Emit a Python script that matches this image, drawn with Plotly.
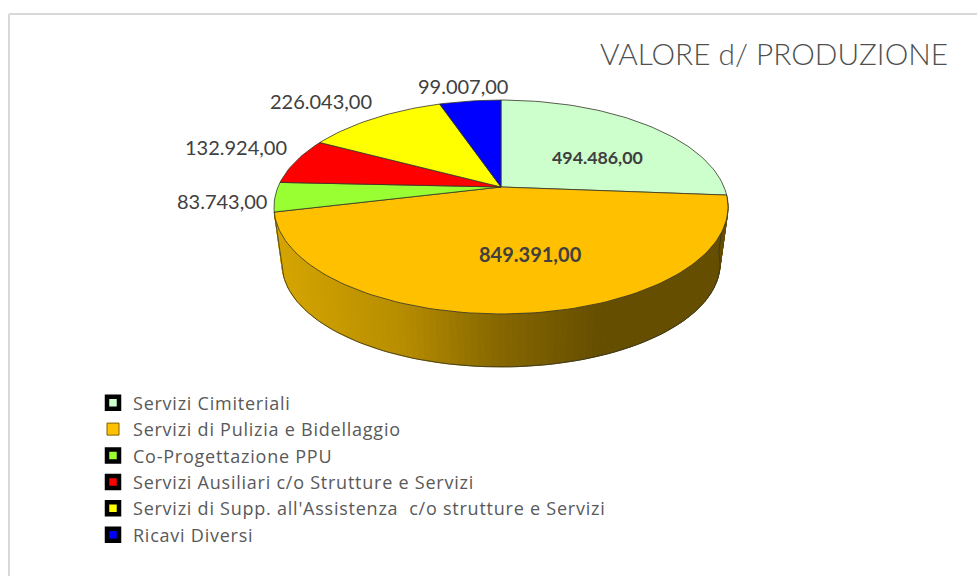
import math
import plotly.graph_objects as go

categories = ["Servizi Cimiteriali", "Servizi di Pulizia e Bidellaggio", "Co-Progettazione PPU",
              "Servizi Ausiliari c/o Strutture e Servizi",
              "Servizi di Supp. all'Assistenza\u00a0\u00a0c/o strutture e Servizi", "Ricavi Diversi"]
values = [494486, 849391, 83743, 132924, 226043, 99007]
colors = ["#CCFFCC", "#FFC000", "#99FF33", "#FF0000", "#FFFF00", "#0000FF"]
legend_borders = ["#000000", "#7F6000", "#000000", "#000000", "#000000", "#000000"]

W, H = 977, 576
CX, CY, KX, KY, P = 501, 187, 223, 103.2, 0.187
DEPTH, SHRINK = 57.4, 0.965
OUTLINE = "#333326"
FONT = "Lato"
TEXT = "#595959"


def fmt(v):
    return f"{v:,.2f}".replace(",", "#").replace(".", ",").replace("#", ".")


def top_point(a):
    u, v = math.sin(a), -math.cos(a)
    d = 1 - P * v
    return CX + KX * u / d, CY + KY * v / d


def bottom_point(a):
    x, y = top_point(a)
    return CX + SHRINK * (x - CX), CY + DEPTH + SHRINK * (y - CY)


def arc(a0, a1, step=math.radians(1.5)):
    n = max(2, int(abs(a1 - a0) / step) + 1)
    return [a0 + (a1 - a0) * i / n for i in range(n + 1)]


def side_color(x):
    stops = [(275, (214, 166, 0)), (400, (184, 142, 0)), (500, (134, 103, 0)), (600, (102, 78, 0)), (730, (102, 78, 0))]
    for (x0, c0), (x1, c1) in zip(stops, stops[1:]):
        if x <= x1:
            t = max(0, (x - x0) / (x1 - x0))
            return "rgb(%d,%d,%d)" % tuple(c0[i] + (c1[i] - c0[i]) * t for i in range(3))
    return "rgb(102,78,0)"


total = sum(values)
bounds = [0.0]
for val in values:
    bounds.append(bounds[-1] + val / total * 2 * math.pi)

fig = go.Figure()

# legend entries
for name, col, edge in zip(categories, colors, legend_borders):
    is_black = edge == "#000000"
    fig.add_trace(go.Scatter(
        x=[None], y=[None], mode="markers", name=name, legendgroup=name,
        marker=dict(symbol="square", size=12, color=col,
                    line=dict(color=edge, width=4.5 if is_black else 1)),
    ))

# side wall of the large slice
a0, a1 = bounds[1], bounds[2]
angles = arc(a0, a1)
for s, e in zip(angles, angles[1:]):
    p = [top_point(s), top_point(e), bottom_point(e), bottom_point(s), top_point(s)]
    c = side_color(sum(q[0] for q in p[:4]) / 4)
    fig.add_trace(go.Scatter(
        x=[q[0] for q in p], y=[q[1] for q in p], mode="lines", fill="toself",
        fillcolor=c, line=dict(color=c, width=1), showlegend=False, hoverinfo="skip",
    ))
low = [bottom_point(a) for a in angles]
edge_line = [top_point(a1)] + low[::-1] + [top_point(a0)]
fig.add_trace(go.Scatter(
    x=[q[0] for q in edge_line], y=[q[1] for q in edge_line], mode="lines",
    line=dict(color=OUTLINE, width=0.8), showlegend=False, hoverinfo="skip",
))

# top faces
for i, col in enumerate(colors):
    rim = [top_point(a) for a in arc(bounds[i], bounds[i + 1])]
    p = [(CX, CY)] + rim + [(CX, CY)]
    fig.add_trace(go.Scatter(
        x=[q[0] for q in p], y=[q[1] for q in p], mode="lines", fill="toself",
        fillcolor=col, line=dict(color=OUTLINE, width=0.8), showlegend=False, hoverinfo="skip",
    ))

# data labels
label_pos = [(597, 157, "center", True, 17.8), (530, 254, "center", True, 20), (268, 201, "right", False, 20),
             (288, 147, "right", False, 20), (373, 101, "right", False, 20), (509, 86, "right", False, 20)]
for val, (x, y, anchor, bold, size) in zip(values, label_pos):
    txt = fmt(val)
    fig.add_annotation(
        x=x, y=y, xref="x", yref="y", text=f"<b>{txt}</b>" if bold else txt, showarrow=False,
        xanchor=anchor, yanchor="middle", xshift=1 if not bold else 0,
        font=dict(family=FONT, size=size, color="#404040"),
    )

fig.update_layout(
    width=W, height=H, margin=dict(l=0, r=0, t=0, b=0),
    paper_bgcolor="white", plot_bgcolor="white",
    title=dict(text="VALORE d/ PRODUZIONE", x=948 / W, y=1 - 55 / H, xanchor="right", yanchor="middle",
               font=dict(family="Lato Light, Lato", size=29.8, color="#505050")),
    xaxis=dict(range=[0, W], visible=False, fixedrange=True),
    yaxis=dict(range=[H, 0], visible=False, fixedrange=True),
    showlegend=True,
    legend=dict(x=93 / W, y=1 - 384.5 / H, xanchor="left", yanchor="top", bgcolor="rgba(0,0,0,0)",
                font=dict(family="Open Sans", size=18, color=TEXT), tracegroupgap=0, traceorder="normal"),
    shapes=[
        dict(type="line", xref="paper", yref="paper", x0=9 / W, x1=1, y0=1 - 14 / H, y1=1 - 14 / H,
             line=dict(color="#D9D9D9", width=2)),
        dict(type="line", xref="paper", yref="paper", x0=9 / W, x1=9 / W, y0=1 - 14 / H, y1=0,
             line=dict(color="#D9D9D9", width=2)),
    ],
)

page_js = (
    "document.body.style.margin='0';document.body.style.overflow='hidden';"
    "var st=document.createElement('style');"
    "st.textContent='.legend text.legendtext{letter-spacing:0.76px}"
    ".legend,.legend .scrollbox{clip-path:none !important}';"
    "document.head.appendChild(st);"
)
fig.write_html("out.html", config={"displayModeBar": False}, post_script=page_js)
